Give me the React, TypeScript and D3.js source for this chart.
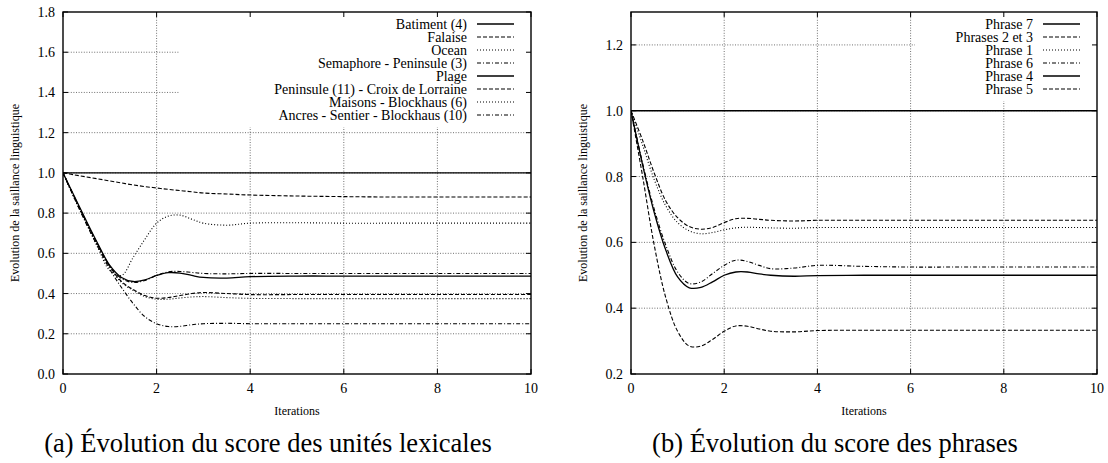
import React from 'react';
import * as d3 from 'd3';

// ---------- data ----------
const iterations = [0, 0.25, 0.5, 0.75, 1, 1.25, 1.5, 1.75, 2, 2.25, 2.5, 2.75, 3, 3.5, 4, 5, 6, 7, 8, 9, 10];

const lexLabels = [
  'Batiment (4)',
  'Falaise',
  'Ocean',
  'Semaphore - Peninsule (3)',
  'Plage',
  'Peninsule (11) - Croix de Lorraine',
  'Maisons - Blockhaus (6)',
  'Ancres - Sentier - Blockhaus (10)',
];
const batiment = [1, 1, 1, 1, 1, 1, 1, 1, 1, 1, 1, 1, 1, 1, 1, 1, 1, 1, 1, 1, 1];
const falaise = [1.0, 0.99, 0.98, 0.97, 0.96, 0.95, 0.94, 0.932, 0.925, 0.918, 0.912, 0.906, 0.9, 0.895, 0.89, 0.885, 0.882, 0.88, 0.88, 0.88, 0.88];
const ocean = [1.0, 0.875, 0.75, 0.625, 0.515, 0.49, 0.58, 0.67, 0.75, 0.785, 0.79, 0.77, 0.75, 0.74, 0.75, 0.752, 0.75, 0.75, 0.75, 0.75, 0.75];
const semaphore = [1.0, 0.875, 0.755, 0.64, 0.535, 0.475, 0.455, 0.465, 0.49, 0.508, 0.51, 0.505, 0.5, 0.498, 0.5, 0.5, 0.5, 0.5, 0.5, 0.5, 0.5];
const plage = [1.0, 0.88, 0.76, 0.645, 0.54, 0.48, 0.46, 0.468, 0.49, 0.504, 0.502, 0.49, 0.48, 0.477, 0.484, 0.487, 0.487, 0.487, 0.487, 0.487, 0.487];
const peninsule = [1.0, 0.875, 0.755, 0.64, 0.535, 0.46, 0.42, 0.39, 0.377, 0.38, 0.39, 0.4, 0.405, 0.4, 0.395, 0.395, 0.395, 0.395, 0.395, 0.395, 0.395];
const maisons = [1.0, 0.87, 0.75, 0.635, 0.53, 0.455, 0.415, 0.385, 0.372, 0.372, 0.378, 0.383, 0.385, 0.38, 0.376, 0.375, 0.375, 0.375, 0.375, 0.375, 0.375];
const ancres = [1.0, 0.87, 0.745, 0.63, 0.52, 0.43, 0.35, 0.285, 0.25, 0.236, 0.237, 0.245, 0.25, 0.252, 0.25, 0.25, 0.25, 0.25, 0.25, 0.25, 0.25];

const phrLabels = ['Phrase 7', 'Phrases 2 et 3', 'Phrase 1', 'Phrase 6', 'Phrase 4', 'Phrase 5'];
const phrase7 = [1, 1, 1, 1, 1, 1, 1, 1, 1, 1, 1, 1, 1, 1, 1, 1, 1, 1, 1, 1, 1];
const phrases23 = [1.0, 0.91, 0.81, 0.725, 0.675, 0.648, 0.64, 0.645, 0.66, 0.672, 0.673, 0.67, 0.667, 0.665, 0.667, 0.667, 0.667, 0.667, 0.667, 0.667, 0.667];
const phrase1 = [1.0, 0.895, 0.79, 0.71, 0.66, 0.635, 0.626, 0.63, 0.638, 0.644, 0.646, 0.645, 0.644, 0.643, 0.645, 0.645, 0.645, 0.645, 0.645, 0.645, 0.645];
const phrase6 = [1.0, 0.84, 0.7, 0.59, 0.51, 0.475, 0.48, 0.505, 0.53, 0.546, 0.542, 0.53, 0.52, 0.522, 0.53, 0.527, 0.525, 0.525, 0.525, 0.525, 0.525];
const phrase4 = [1.0, 0.835, 0.69, 0.575, 0.495, 0.462, 0.463, 0.48, 0.5, 0.51, 0.51, 0.504, 0.5, 0.497, 0.499, 0.5, 0.5, 0.5, 0.5, 0.5, 0.5];
const phrase5 = [1.0, 0.8, 0.59, 0.43, 0.33, 0.285, 0.285, 0.305, 0.33, 0.346, 0.345, 0.337, 0.33, 0.328, 0.332, 0.333, 0.333, 0.333, 0.333, 0.333, 0.333];

const xTicks = [0, 2, 4, 6, 8, 10];
const lexYTicks = [0, 0.2, 0.4, 0.6, 0.8, 1.0, 1.2, 1.4, 1.6, 1.8];
const phrYTicks = [0.2, 0.4, 0.6, 0.8, 1.0, 1.2];

const xTitle = 'Iterations';
const yTitle = 'Evolution de la saillance linguistique';
const captionA = '(a) Évolution du score des unités lexicales';
const captionB = '(b) Évolution du score des phrases';

// ---------- style ----------
const DASHES = ['none', '4,2', '1,2', '4,2,1,2'];
const FONT = "'Liberation Serif', serif";

type Series = { label: string; values: number[] };

type ChartProps = {
  left: number;
  right: number;
  top: number;
  bottom: number;
  yDomain: [number, number];
  yTicks: number[];
  series: Series[];
  legendBox: { x0: number; y1: number };
  legendRowH: number;
  titleX: number;
  clipId: string;
};

function Chart(p: ChartProps) {
  const x = d3.scaleLinear().domain([0, 10]).range([p.left, p.right]);
  const y = d3.scaleLinear().domain(p.yDomain).range([p.bottom, p.top]);
  const line = d3
    .line<number>()
    .x((_, i) => x(iterations[i]))
    .y((d) => y(d))
    .curve(d3.curveCatmullRom.alpha(0.5));
  const gridStyle = { stroke: '#333', strokeWidth: 0.7, strokeDasharray: '1,1.6' };
  const tickLen = 5;
  const legTextRight = p.right - 64;
  const legLineX0 = p.right - 54;
  const legLineX1 = p.right - 17;
  const legY0 = p.top + 12;
  const midY = (p.top + p.bottom) / 2;
  const midX = (p.left + p.right) / 2;
  return (
    <g>
      <defs>
        <clipPath id={p.clipId}>
          <rect x={p.left} y={p.top} width={p.right - p.left} height={p.bottom - p.top} />
        </clipPath>
      </defs>
      {xTicks.filter((t) => t > 0 && t < 10).map((t) => (
        <line key={'gx' + t} x1={x(t)} x2={x(t)} y1={p.top} y2={p.bottom} style={gridStyle} />
      ))}
      {p.yTicks.filter((t) => y(t) > p.top + 1 && y(t) < p.bottom - 1).map((t) => (
        <line key={'gy' + t} x1={p.left} x2={p.right} y1={y(t)} y2={y(t)} style={gridStyle} />
      ))}
      <rect x={p.legendBox.x0} y={p.top} width={p.right - p.legendBox.x0} height={p.legendBox.y1 - p.top} fill="#fff" />
      <g clipPath={`url(#${p.clipId})`}>
        {p.series.map((s, i) => (
          <path
            key={s.label}
            d={line(s.values) || ''}
            fill="none"
            stroke="#000"
            strokeWidth={DASHES[i % 4] === 'none' ? 1.3 : 1.1}
            strokeDasharray={DASHES[i % 4]}
          />
        ))}
      </g>
      <rect x={p.left} y={p.top} width={p.right - p.left} height={p.bottom - p.top} fill="none" stroke="#000" strokeWidth={1.4} />
      {xTicks.map((t) => (
        <g key={'tx' + t}>
          <line x1={x(t)} x2={x(t)} y1={p.bottom} y2={p.bottom - tickLen} stroke="#000" strokeWidth={1} />
          <line x1={x(t)} x2={x(t)} y1={p.top} y2={p.top + tickLen} stroke="#000" strokeWidth={1} />
          <text x={x(t)} y={p.bottom + 19} textAnchor="middle" style={{ fontFamily: FONT, fontSize: 14 }}>
            {d3.format('d')(t)}
          </text>
        </g>
      ))}
      {p.yTicks.map((t) => (
        <g key={'ty' + t}>
          <line x1={p.left} x2={p.left + tickLen} y1={y(t)} y2={y(t)} stroke="#000" strokeWidth={1} />
          <line x1={p.right} x2={p.right - tickLen} y1={y(t)} y2={y(t)} stroke="#000" strokeWidth={1} />
          <text x={p.left - 8} y={y(t) + 5} textAnchor="end" style={{ fontFamily: FONT, fontSize: 14 }}>
            {d3.format('.1f')(t)}
          </text>
        </g>
      ))}
      {p.series.map((s, i) => (
        <g key={'lg' + s.label}>
          <text
            x={legTextRight}
            y={legY0 + i * p.legendRowH + 4.5}
            textAnchor="end"
            style={{ fontFamily: FONT, fontSize: 14 }}
          >
            {s.label}
          </text>
          <line
            x1={legLineX0}
            x2={legLineX1}
            y1={legY0 + i * p.legendRowH}
            y2={legY0 + i * p.legendRowH}
            stroke="#000"
            strokeWidth={DASHES[i % 4] === 'none' ? 1.3 : 1.1}
            strokeDasharray={DASHES[i % 4]}
          />
        </g>
      ))}
      <text x={midX} y={p.bottom + 41} textAnchor="middle" style={{ fontFamily: FONT, fontSize: 12 }}>
        {xTitle}
      </text>
      <text
        transform={`translate(${p.titleX},${midY}) rotate(-90)`}
        textAnchor="middle"
        style={{ fontFamily: FONT, fontSize: 12 }}
      >
        {yTitle}
      </text>
    </g>
  );
}

export default function App() {
  const lexSeries: Series[] = [batiment, falaise, ocean, semaphore, plage, peninsule, maisons, ancres].map((v, i) => ({
    label: lexLabels[i],
    values: v,
  }));
  const phrSeries: Series[] = [phrase7, phrases23, phrase1, phrase6, phrase4, phrase5].map((v, i) => ({
    label: phrLabels[i],
    values: v,
  }));
  return (
    <svg width={1108} height={463} style={{ position: 'absolute', left: 0, top: 0, background: '#fff' }}>
      <rect width={1108} height={463} fill="#fff" />
      <Chart
        left={63}
        right={531}
        top={12}
        bottom={374}
        yDomain={[0, 1.8]}
        yTicks={lexYTicks}
        series={lexSeries}
        legendBox={{ x0: 180, y1: 127 }}
        legendRowH={13}
        titleX={19}
        clipId="clipA"
      />
      <Chart
        left={631}
        right={1097}
        top={12}
        bottom={374}
        yDomain={[0.2, 1.3]}
        yTicks={phrYTicks}
        series={phrSeries}
        legendBox={{ x0: 915, y1: 101 }}
        legendRowH={13}
        titleX={587}
        clipId="clipB"
      />
      <text x={268} y={452} textAnchor="middle" style={{ fontFamily: FONT, fontSize: 26.5 }}>
        {captionA}
      </text>
      <text x={835} y={452} textAnchor="middle" style={{ fontFamily: FONT, fontSize: 26.5 }}>
        {captionB}
      </text>
    </svg>
  );
}
